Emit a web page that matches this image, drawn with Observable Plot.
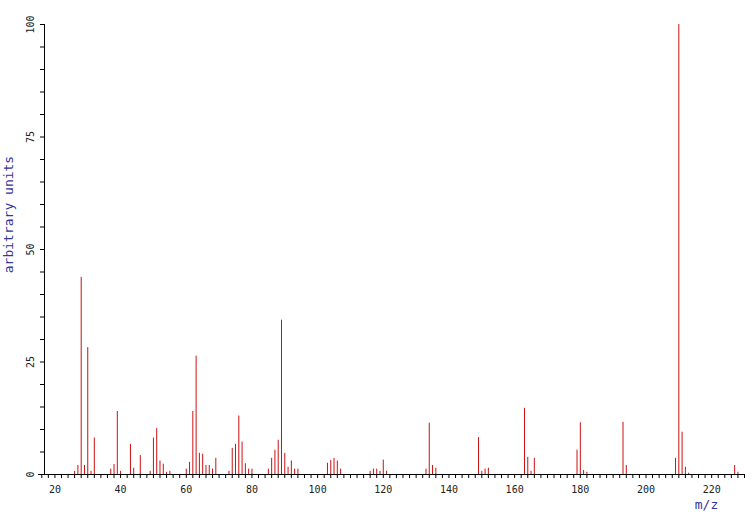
<!DOCTYPE html>
<html>
<head>
<meta charset="utf-8">
<script src="https://cdn.jsdelivr.net/npm/d3@7"></script>
<script src="https://cdn.jsdelivr.net/npm/@observablehq/plot@0.6"></script>
<style>
  html, body { margin: 0; padding: 0; background: white; }
</style>
</head>
<body>
<div id="chart"></div>
<script>
const mz = [26, 27, 28, 29, 30, 31, 32, 37, 38, 39, 40, 43, 44, 46, 49, 50, 51, 52, 53, 54, 55,
  60, 61, 62, 63, 64, 65, 66, 67, 68, 69, 73, 74, 75, 76, 77, 78, 79, 80,
  85, 86, 87, 88, 89, 90, 91, 92, 93, 94, 103, 104, 105, 106, 107,
  116, 117, 118, 119, 120, 121, 133, 134, 135, 136, 149, 150, 151, 152,
  163, 164, 165, 166, 179, 180, 181, 182, 193, 194, 209, 210, 211, 212, 213, 227, 228];
const intensity = [0.7, 2.0, 43.8, 2.0, 28.2, 0.7, 8.1, 1.2, 2.2, 14.0, 0.7, 6.7, 1.4, 4.2, 0.7, 8.1, 10.2, 3.0, 2.3, 0.5, 0.7,
  1.2, 2.7, 14.0, 26.3, 4.7, 4.5, 2.0, 2.0, 1.2, 3.6, 0.7, 5.8, 6.7, 13.0, 7.2, 2.4, 1.2, 1.2,
  1.2, 3.6, 5.4, 7.6, 34.3, 4.7, 1.6, 3.0, 1.2, 1.2, 2.5, 3.1, 3.6, 3.0, 1.2,
  0.7, 1.2, 1.2, 0.7, 3.2, 0.7, 1.2, 11.4, 2.0, 1.4, 8.2, 0.7, 1.2, 1.4,
  14.7, 3.8, 0.7, 3.6, 5.4, 11.5, 0.9, 0.5, 11.6, 2.0, 3.6, 100, 9.4, 1.6, 0.3, 2.0, 0.5];

const xMinorTicks = d3.range(16, 231, 2);
const xTickLabels = [20, 40, 60, 80, 100, 120, 140, 160, 180, 200, 220];
const yMinorTicks = d3.range(0, 101, 5);
const yTickLabels = [0, 25, 50, 75, 100];
const xLabel = "m/z";
const yLabel = "arbitrary units";

const data = mz.map((m, i) => ({mz: m, intensity: intensity[i]}));

const blue = "#34349a";
const font = "DejaVu Sans Mono";

const chart = Plot.plot({
  width: 752,
  height: 518,
  marginLeft: 38,
  marginRight: 8,
  marginTop: 24,
  marginBottom: 44,
  style: {fontFamily: font, fontSize: "10px", color: "#222", background: "white"},
  x: {domain: [15, 230]},
  y: {domain: [0, 100]},
  marks: [
    Plot.ruleX(data, {x: "mz", y1: 0, y2: "intensity", stroke: "#cc1111", strokeWidth: 1}),
    Plot.frame({anchor: "bottom", stroke: "black"}),
    Plot.frame({anchor: "left", dx: 6, stroke: "black"}),
    Plot.axisX({ticks: xMinorTicks, tickSize: 4, tickFormat: () => "", label: null, stroke: "black", strokeOpacity: 1}),
    Plot.axisX({ticks: xTickLabels, tickSize: 0, tickPadding: 11, label: null, fontSize: 10, fill: "#222"}),
    Plot.axisY({ticks: yMinorTicks, tickSize: 4, dx: 6, tickFormat: () => "", label: null, stroke: "black", strokeOpacity: 1}),
    Plot.text(yTickLabels, {y: d => d, text: d => String(d), frameAnchor: "left", dx: -8, rotate: -90, textAnchor: "middle", fontSize: 10, fill: "#222"}),
    Plot.text([yLabel], {frameAnchor: "left", dx: -30, dy: -35, rotate: -90, textAnchor: "middle", fill: blue, fontSize: 13}),
    Plot.text([xLabel], {frameAnchor: "bottom-right", dx: -38, dy: 34, textAnchor: "middle", fill: blue, fontSize: 13})
  ]
});
document.getElementById("chart").appendChild(chart);
</script>
</body>
</html>
